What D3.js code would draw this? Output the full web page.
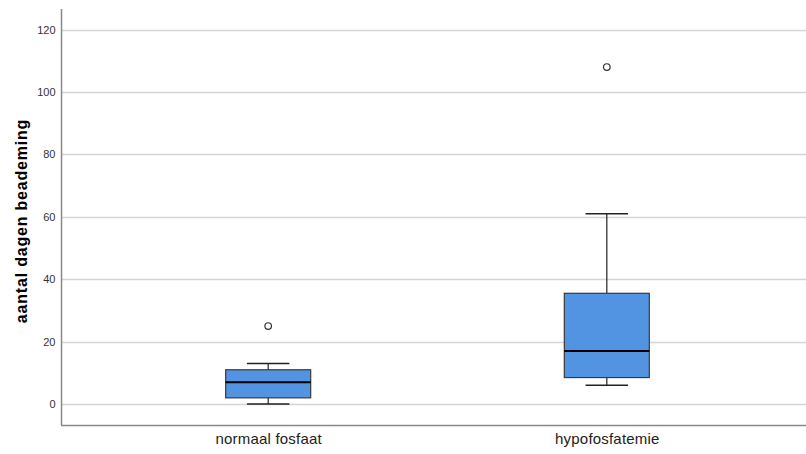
<!DOCTYPE html>
<html>
<head>
<meta charset="utf-8">
<script src="https://cdn.jsdelivr.net/npm/d3@7"></script>
<style>
  body { margin: 0; background: #fff; }
  text { font-family: "Liberation Sans", Arial, sans-serif; }
</style>
</head>
<body>
<script>
// categories and box statistics
var groups = ["normaal fosfaat", "hypofosfatemie"];
var whiskerLow = [0, 6];
var q1 = [2, 8.5];
var median = [7, 17];
var q3 = [11, 35.5];
var whiskerHigh = [13, 61];
var outliers = [[25], [108]];
var yTicks = [0, 20, 40, 60, 80, 100, 120];

var svgWidth = 806;
var svgHeight = 454;

var svg = d3.select("body").append("svg")
    .attr("width", svgWidth)
    .attr("height", svgHeight);

// plot area
var plotLeft = 61, plotTop = 9, plotBottom = 425;

var y = d3.scaleLinear()
    .domain([-6.7, 126.6])
    .range([plotBottom, plotTop]);

var x = d3.scalePoint()
    .domain(groups)
    .range([65, 810])
    .padding(0.6);

var boxWidth = 85;

// gridlines
svg.append("g")
    .selectAll("line")
    .data(yTicks)
    .enter()
    .append("line")
    .attr("x1", plotLeft)
    .attr("x2", svgWidth)
    .attr("y1", d => Math.round(y(d)) + 0.5)
    .attr("y2", d => Math.round(y(d)) + 0.5)
    .attr("stroke", "#d4d4d4")
    .attr("stroke-width", 1.3);

// y axis
var yAxis = svg.append("g")
    .attr("transform", `translate(${plotLeft + 0.5},0)`)
    .call(d3.axisLeft(y).tickValues(yTicks).tickSize(0).tickPadding(6));
yAxis.select(".domain").attr("stroke", "#888").attr("stroke-width", 1.5)
    .attr("d", `M0,${plotTop}V${plotBottom}`);
yAxis.selectAll("text").attr("font-size", 11).attr("fill", "#333")
    .style("font-family", "Liberation Sans, Arial, sans-serif");

// x axis
var xAxis = svg.append("g")
    .attr("transform", `translate(0,${plotBottom + 0.5})`)
    .call(d3.axisBottom(x).tickSize(0).tickPadding(8));
xAxis.select(".domain").attr("stroke", "#888").attr("stroke-width", 1.5)
    .attr("d", `M${plotLeft},0H${svgWidth}`);
xAxis.selectAll("text").attr("font-size", 15).attr("fill", "#222")
    .attr("letter-spacing", 0.2)
    .style("font-family", "Liberation Sans, Arial, sans-serif");

// y title
svg.append("text")
    .attr("transform", `translate(27,${(plotTop + plotBottom) / 2 + 4}) rotate(-90)`)
    .attr("text-anchor", "middle")
    .attr("font-size", 16)
    .attr("font-weight", "bold")
    .attr("letter-spacing", 0.8)
    .attr("fill", "#000")
    .text("aantal dagen beademing");

// boxes
var boxes = svg.append("g")
    .selectAll("g")
    .data(groups)
    .enter()
    .append("g");

// whisker stem
boxes.append("line")
    .attr("x1", d => x(d)).attr("x2", d => x(d))
    .attr("y1", (d, i) => y(whiskerLow[i]))
    .attr("y2", (d, i) => y(whiskerHigh[i]))
    .attr("stroke", "#222").attr("stroke-width", 1.2);

// caps
[whiskerLow, whiskerHigh].forEach(arr => {
    boxes.append("line")
        .attr("x1", d => x(d) - boxWidth / 4)
        .attr("x2", d => x(d) + boxWidth / 4)
        .attr("y1", (d, i) => y(arr[i]))
        .attr("y2", (d, i) => y(arr[i]))
        .attr("stroke", "#222").attr("stroke-width", 1.5);
});

boxes.append("rect")
    .attr("x", d => x(d) - boxWidth / 2)
    .attr("width", boxWidth)
    .attr("y", (d, i) => y(q3[i]))
    .attr("height", (d, i) => y(q1[i]) - y(q3[i]))
    .attr("fill", "#5294e2")
    .attr("stroke", "#3a3a3a")
    .attr("stroke-width", 1.2);

boxes.append("line")
    .attr("x1", d => x(d) - boxWidth / 2)
    .attr("x2", d => x(d) + boxWidth / 2)
    .attr("y1", (d, i) => y(median[i]))
    .attr("y2", (d, i) => y(median[i]))
    .attr("stroke", "#000").attr("stroke-width", 2);

// outliers
boxes.each(function (d, i) {
    d3.select(this).selectAll("circle")
        .data(outliers[i])
        .enter()
        .append("circle")
        .attr("cx", x(d))
        .attr("cy", v => y(v))
        .attr("r", 3.3)
        .attr("fill", "none")
        .attr("stroke", "#333")
        .attr("stroke-width", 1.2);
});
</script>
</body>
</html>
